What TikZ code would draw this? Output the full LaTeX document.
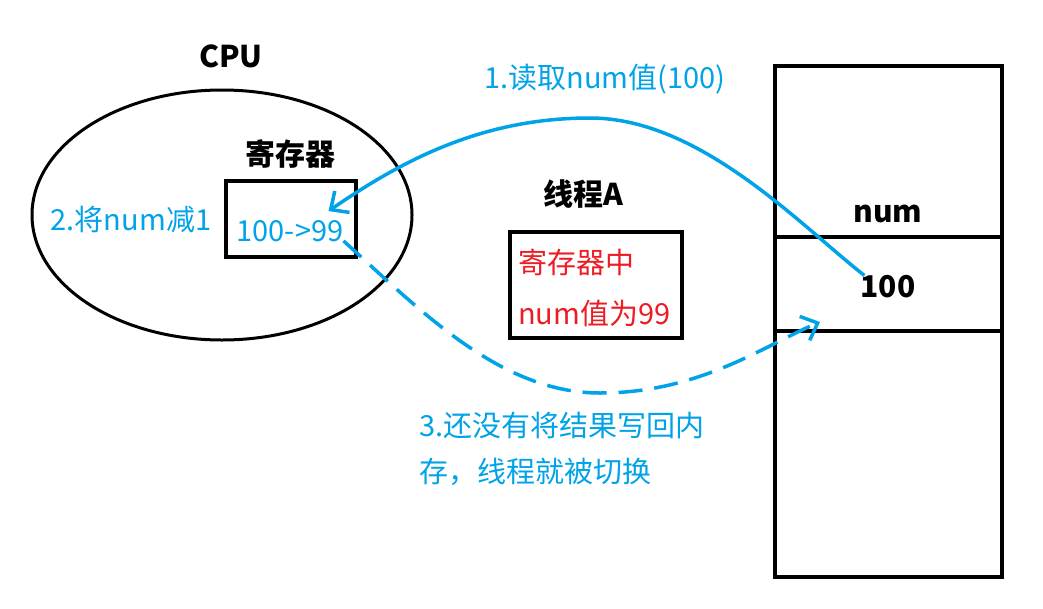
\documentclass[tikz,border=0pt]{standalone}
\usepackage{fontspec}
\setmainfont{Noto Sans CJK SC}
\usetikzlibrary{arrows.meta}
\definecolor{paintblue}{HTML}{00A2E8}
\definecolor{paintred}{HTML}{ED1C24}

\begin{document}
\begin{tikzpicture}
\tikzset{frame/.style={draw=black,line width=3.5pt}}
\tikzset{title/.style={font=\fontsize{30}{36}\selectfont\bfseries,anchor=center,inner sep=0pt}}
\tikzset{bluetext/.style={text=paintblue,font=\fontsize{29}{34}\selectfont,inner sep=0pt}}
\tikzset{redtext/.style={text=paintred,font=\fontsize{29}{34}\selectfont,inner sep=0pt,anchor=west}}
\tikzset{flow/.style={draw=paintblue,line width=3.5pt,-{Straight Barb[length=14pt,width=26pt,line width=3.5pt]}}}
\tikzset{lateflow/.style={flow,dash pattern=on 24pt off 12pt}}

\begin{scope}[x={(1pt,0pt)},y={(0pt,-1pt)}]
\useasboundingbox (0,0) rectangle (1043,608);

% CPU
\path[draw=black,line width=3pt] (222,215) ellipse (190 and 125);
\node[title] (cpu) at (231,56) {CPU};
\node[title] (regname) at (290,154) {寄存器};
\path[frame] (226,181) rectangle (356,257);
\node[bluetext] (regval) at (290,231) {100->99};
\node[bluetext] (dec) at (131,220) {2.将num减1};

% thread A
\node[title] (thread) at (583,194) {线程A};
\path[frame] (510,232) rectangle (682,338);
\node[redtext] (note1) at (518,262) {寄存器中};
\node[redtext] (note2) at (518,313) {num值为99};

% memory
\path[frame] (775,66) rectangle (1002,577);
\path[frame] (775,237) -- (1002,237);
\path[frame] (775,331) -- (1002,331);
\node[title] (numname) at (888,214) {num};
\node[title] (val) at (888,287) {100};
\coordinate (memin) at (820,322);

% steps
\node[bluetext] (step1) at (605,79) {1.读取num值(100)};
\node[bluetext,anchor=west] (step3a) at (419,425) {3.还没有将结果写回内};
\node[bluetext,anchor=west] (step3b) at (419,472) {存，线程就被切换};

\path[flow] ([xshift=4pt]val.north west) .. controls (800,225) and (700,118) .. (590,118)
  .. controls (480,118) and (400,162) .. ([xshift=-15pt,yshift=9pt]regval.north east);
\path[lateflow] ([xshift=0pt,yshift=1pt]regval.south east) .. controls (420,310) and (500,393) .. (600,393)
  .. controls (700,393) and (765,345) .. (memin);

\end{scope}
\end{tikzpicture}
\end{document}
